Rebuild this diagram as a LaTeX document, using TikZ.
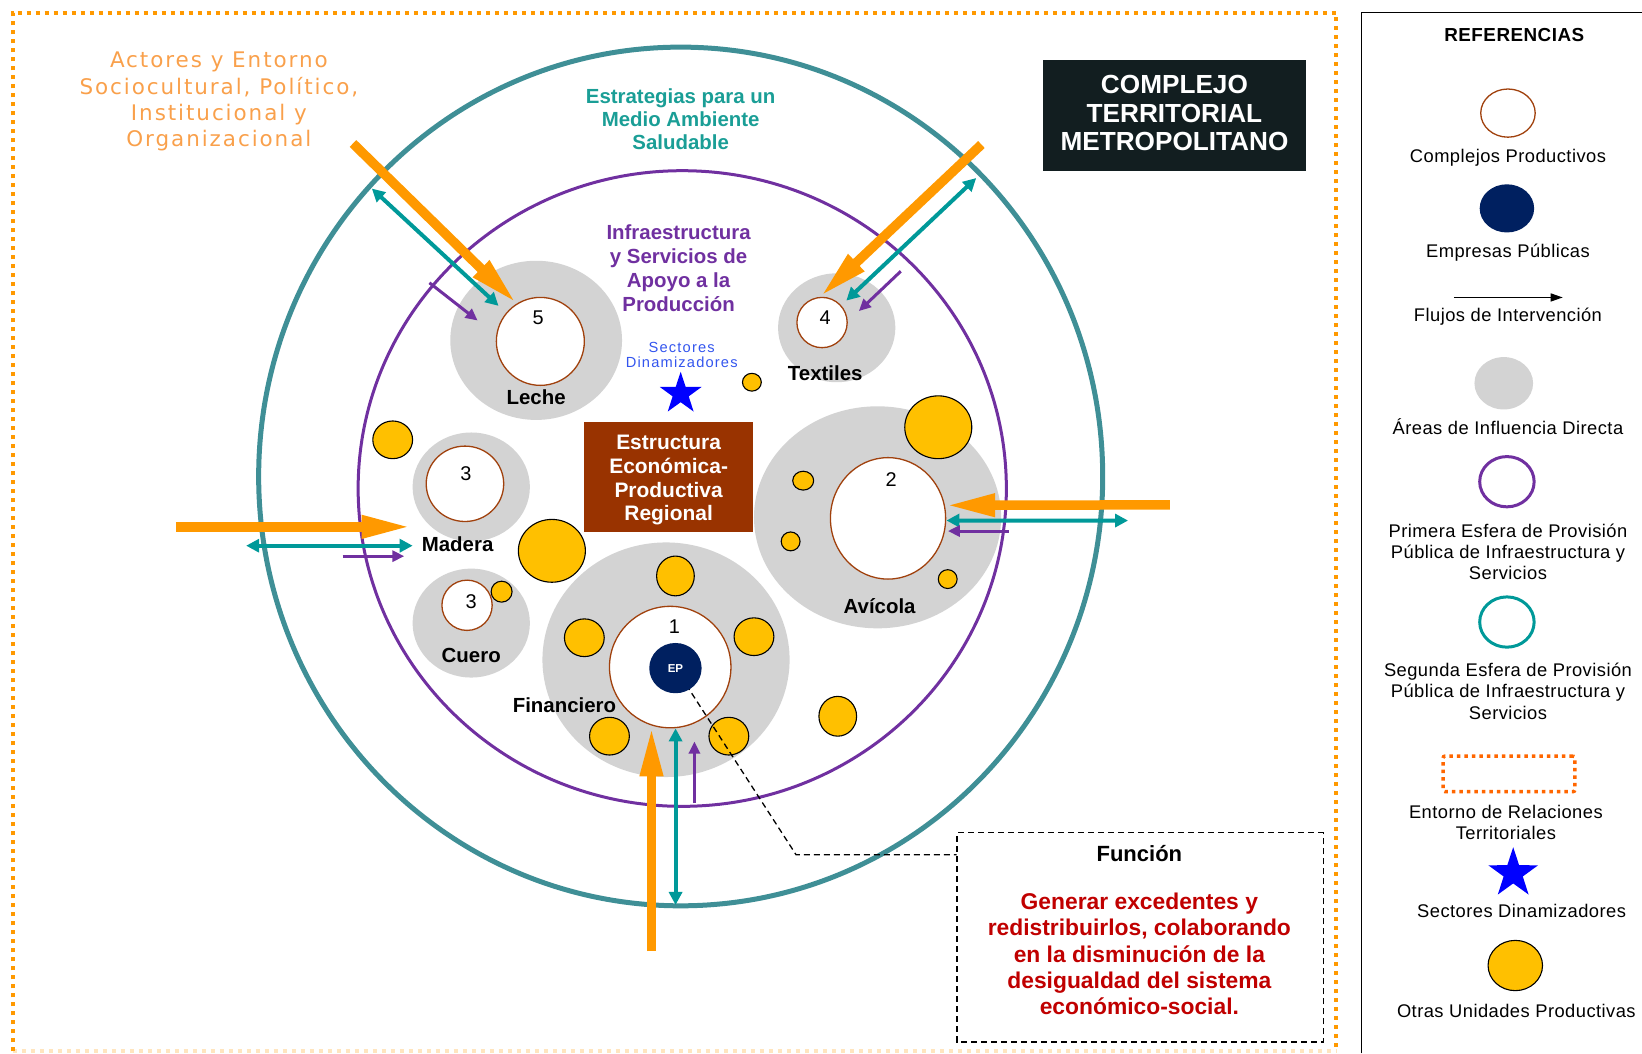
\documentclass[tikz,border=0pt]{standalone}
\usepackage{fontspec}
\setmainfont{Liberation Sans}
\newfontfamily\actfont[LetterSpace=9]{DejaVu Sans}
\newfontfamily\refont[LetterSpace=2.5]{Liberation Sans}
\newfontfamily\secfont[LetterSpace=8]{Liberation Sans}
\usetikzlibrary{shapes.geometric, arrows.meta}

\definecolor{tealesf}{HTML}{3F8F96}
\definecolor{tealflujo}{HTML}{009999}
\definecolor{tealtxt}{HTML}{1A9E96}
\definecolor{morado}{HTML}{7030A0}
\definecolor{naranja}{HTML}{FF9900}
\definecolor{naranjatxt}{HTML}{F9A04B}
\definecolor{naranjaref}{HTML}{FF6600}
\definecolor{amarillo}{HTML}{FFC000}
\definecolor{marron}{HTML}{A0410D}
\definecolor{ladrillo}{HTML}{993300}
\definecolor{marino}{HTML}{002060}
\definecolor{pizarra}{HTML}{121E20}
\definecolor{rojo}{HTML}{C00000}
\definecolor{gris}{HTML}{D3D3D3}
\definecolor{azul}{HTML}{0000FF}
\definecolor{azultxt}{HTML}{3355EE}

\newcommand{\tamfuente}[2]{\fontsize{#1}{#2}\selectfont}

\begin{document}
\begin{tikzpicture}[x=1pt, y=-1pt, scale=1.0472,
    every node/.append style={transform shape},
    esfera/.style={ellipse, inner sep=0pt},
    area/.style={ellipse, fill=gris, inner sep=0pt},
    complejo/.style={ellipse, draw=marron, line width=1.3pt, fill=white, inner sep=0pt},
    unidad/.style={ellipse, draw=black, line width=1.1pt, fill=amarillo, inner sep=0pt},
    estrella/.style={star, star points=5, star point ratio=2.6, fill=azul, inner sep=0pt},
    num/.style={font=\tamfuente{19}{22}},
    sector/.style={font=\tamfuente{19.5}{22}\bfseries},
    leyenda/.style={font=\refont\tamfuente{17.5}{20.5}, align=center},
    marco/.style={draw=naranja, line width=4pt, dash pattern=on 4pt off 5pt},
    flujoAct/.style={draw=naranja, line width=9.5pt, -{Triangle[length=50pt,width=21pt]}},
    flujoSeg/.style={draw=tealflujo, line width=4pt,
        {Triangle[length=13pt,width=13pt]}-{Triangle[length=13pt,width=13pt]}},
    flujoPri/.style={draw=morado, line width=3pt, -{Triangle[length=12pt,width=11pt]}},
    guion/.style={line width=1.3pt, dash pattern=on 6pt off 4pt}]
\useasboundingbox (0,0) rectangle (1568,1006);

% entorno de relaciones territoriales
\draw[marco] (12,1004) -- (12,12) -- (1276,12) -- (1276,1004);
\draw[marco, opacity=.25] (12,1004) -- (1276,1004);
\draw[line width=1.4pt] (1300,1006) -- (1300,12) -- (1568,12);

\node[fill=pizarra, minimum width=251, minimum height=106] (titulo) at (1121.5,110) {};
\node[text=white, align=center, font=\tamfuente{25}{27.5}\bfseries] (tituloTxt) at (1121.5,108)
    {COMPLEJO\\TERRITORIAL\\METROPOLITANO};
\node[text=naranjatxt, font=\actfont\tamfuente{20.5}{25}, align=center] (actores) at (209,97)
    {Actores y Entorno\\Sociocultural, Político,\\Institucional y\\Organizacional};

% areas de influencia
\node[area, minimum width=164, minimum height=152] (aLeche) at (512,325) {};
\node[area, minimum width=112, minimum height=104] (aTextiles) at (799,313) {};
\node[area, minimum width=112, minimum height=104] (aMadera) at (450,465) {};
\node[area, minimum width=112, minimum height=104] (aCuero) at (450,595) {};
\node[area, minimum width=236, minimum height=224] (aFin) at (636,630) {};
\node[area, minimum width=236, minimum height=212] (aAvi) at (838,494) {};

% esferas de provision
\node[esfera, draw=tealesf, line width=5pt, minimum width=806, minimum height=820] (segunda) at (650,455) {};
\node[esfera, draw=morado, line width=3pt, minimum width=619, minimum height=607] (primera) at (651.5,466.5) {};

\node[text=tealtxt, font=\tamfuente{19.5}{22}\bfseries, align=center] (estrategias) at (650,114)
    {Estrategias para un\\Medio Ambiente\\Saludable};
\node[text=morado, font=\tamfuente{19.5}{22.7}\bfseries, align=center] (infra) at (648,256)
    {Infraestructura\\y Servicios de\\Apoyo a la\\Producción};
\node[text=azultxt, font=\secfont\tamfuente{14}{15}, align=center] (sectores) at (651,339)
    {Sectores\\Dinamizadores};
\node[estrella, minimum size=42] (estrella) at (650,376) {};

\node[fill=ladrillo, minimum width=161, minimum height=105] (estructura) at (638.5,455.5) {};
\node[text=white, align=center, font=\tamfuente{20}{22.7}\bfseries] (estructuraTxt) at (638.5,458.5)
    {Estructura\\Económica-\\Productiva\\Regional};

% complejos productivos
\node[complejo, minimum width=84, minimum height=84] (c5) at (516,326) {};
\node[complejo, minimum width=48, minimum height=48] (c4) at (785,308) {};
\node[complejo, minimum width=74, minimum height=72] (c3a) at (444,462) {};
\node[complejo, minimum width=48, minimum height=48] (c3b) at (446,578) {};
\node[complejo, minimum width=116, minimum height=116] (c1) at (640,637) {};
\node[complejo, minimum width=110, minimum height=116] (c2) at (848,495) {};

\node[num] (n5) at (514,303) {5};
\node[num] (n4) at (788,303) {4};
\node[num] (n3a) at (445,452) {3};
\node[num] (n3b) at (450,575) {3};
\node[num] (n1) at (644,598) {1};
\node[num] (n2) at (851,458) {2};

\node[sector] (leche) at (512,379) {Leche};
\node[sector] (textiles) at (788,356) {Textiles};
\node[sector] (madera) at (437,520) {Madera};
\node[sector] (cuero) at (450,626) {Cuero};
\node[sector] (financiero) at (539,673) {Financiero};
\node[sector] (avicola) at (840,579) {Avícola};

% otras unidades productivas
\node[unidad, minimum width=18, minimum height=17] (u1) at (718,365) {};
\node[unidad, minimum width=38, minimum height=36] (u2) at (375,420) {};
\node[unidad, minimum width=64, minimum height=60] (u3) at (527,526) {};
\node[unidad, minimum width=20, minimum height=20] (u4) at (479,565) {};
\node[unidad, minimum width=36, minimum height=38] (u5) at (645,550) {};
\node[unidad, minimum width=38, minimum height=36] (u6) at (558,609) {};
\node[unidad, minimum width=38, minimum height=36] (u7) at (720,608) {};
\node[unidad, minimum width=38, minimum height=36] (u8) at (582,703) {};
\node[unidad, minimum width=38, minimum height=36] (u9) at (696,703) {};
\node[unidad, minimum width=36, minimum height=38] (u10) at (800,684) {};
\node[unidad, minimum width=64, minimum height=60] (u11) at (896,408) {};
\node[unidad, minimum width=20, minimum height=18] (u12) at (767,459) {};
\node[unidad, minimum width=18, minimum height=18] (u13) at (755,517) {};
\node[unidad, minimum width=18, minimum height=18] (u14) at (905,553) {};

% funcion
\node[draw, guion, minimum width=350, minimum height=200] (funcion) at (1089,895) {};
\node[font=\tamfuente{21}{25}\bfseries] (funtit) at (1088,815) {Función};
\node[text=rojo, font=\tamfuente{21.8}{25}\bfseries, align=center] (funtxt) at (1088,911)
    {Generar excedentes y\\redistribuirlos, colaborando\\en la disminución de la\\desigualdad del sistema\\económico-social.};
\coordinate (codo) at (760,816);
\draw[guion] (645,638) -- (codo) -- (codo -| funcion.west);

\node[esfera, fill=marino, minimum width=50, minimum height=48, text=white,
    font=\tamfuente{11}{12}\bfseries] (ep) at (645,638) {EP};

% flujos de intervencion
\coordinate (actNO) at (337,137);
\coordinate (segNOa) at (355,180);
\coordinate (segNOb) at (476,292);
\coordinate (priNOa) at (410,270);
\coordinate (priNOb) at (456,306);
\draw[flujoAct] (actNO) -- (c5.122);
\draw[flujoSeg] (segNOa) -- (segNOb);
\draw[flujoPri] (priNOa) -- (priNOb);

\coordinate (actNE) at (937,138);
\coordinate (segNEa) at (932,170);
\coordinate (segNEb) at (808,287);
\coordinate (priNEa) at (860,259);
\coordinate (priNEb) at (820,297);
\draw[flujoAct] (actNE) -- (c4.95);
\draw[flujoSeg] (segNEa) -- (segNEb);
\draw[flujoPri] (priNEa) -- (priNEb);

\coordinate (actE) at (1117,482);
\coordinate (segE) at (1077,497);
\coordinate (priEa) at (963,507);
\coordinate (priEb) at (905,507);
\draw[flujoAct] (actE) -- (c2.13);
\draw[flujoSeg] (c2.-2) -- (segE);
\draw[flujoPri] (priEa) -- (priEb);

\coordinate (actOa) at (168,503);
\coordinate (actOb) at (393,503);
\coordinate (segOa) at (235,521);
\coordinate (segOb) at (394,521);
\coordinate (priOa) at (327,531);
\coordinate (priOb) at (386,531);
\draw[flujoAct] (actOa) -- (actOb);
\draw[flujoSeg] (segOa) -- (segOb);
\draw[flujoPri] (priOa) -- (priOb);

\coordinate (actS) at (622,908);
\coordinate (segS) at (645,864);
\coordinate (priSa) at (663,767);
\coordinate (priSb) at (663,708);
\draw[flujoAct] (actS) -- (actS |- c1.-106);
\draw[flujoSeg] (segS) -- (segS |- c1.-85);
\draw[flujoPri] (priSa) -- (priSb);

% referencias
\node[font=\refont\tamfuente{18}{20}\bfseries] (referencias) at (1446,33) {REFERENCIAS};
\node[complejo, minimum width=52, minimum height=46] (lgComplejo) at (1440,108) {};
\node[leyenda] (lgComplejoTxt) at (1440,151) {Complejos Productivos};
\node[esfera, fill=marino, minimum width=52, minimum height=46] (lgEmpresa) at (1439,199) {};
\node[leyenda] (lgEmpresaTxt) at (1440,241) {Empresas Públicas};
\coordinate (lgFlujoA) at (1388,284);
\coordinate (lgFlujoB) at (1492,284);
\draw[line width=1.3pt, -{Triangle[length=12pt,width=8pt]}] (lgFlujoA) -- (lgFlujoB);
\node[leyenda] (lgFlujoTxt) at (1440,302) {Flujos de Intervención};
\node[area, minimum width=56, minimum height=50] (lgArea) at (1436,366) {};
\node[leyenda] (lgAreaTxt) at (1440,407) {Áreas de Influencia Directa};
\node[esfera, draw=morado, line width=3pt, minimum width=52, minimum height=48] (lgPrimera) at (1439,460) {};
\node[leyenda] (lgPrimeraTxt) at (1440,527)
    {Primera Esfera de Provisión\\Pública de Infraestructura y\\Servicios};
\node[esfera, draw=tealflujo, line width=3pt, minimum width=52, minimum height=48] (lgSegunda) at (1439,594) {};
\node[leyenda] (lgSegundaTxt) at (1440,660)
    {Segunda Esfera de Provisión\\Pública de Infraestructura y\\Servicios};
\node[draw=naranjaref, line width=3.5pt, dash pattern=on 3.5pt off 4pt, rounded corners=2pt,
    minimum width=126, minimum height=34] (lgEntorno) at (1441,739) {};
\node[leyenda] (lgEntornoTxt) at (1438,785.5) {Entorno de Relaciones\\Territoriales};
\node[estrella, minimum size=50] (lgEstrella) at (1445,834) {};
\node[leyenda] (lgEstrellaTxt) at (1453,870) {Sectores Dinamizadores};
\node[unidad, minimum width=52, minimum height=48] (lgUnidad) at (1447,922) {};
\node[leyenda] (lgUnidadTxt) at (1448,965) {Otras Unidades Productivas};
\end{tikzpicture}
\end{document}
